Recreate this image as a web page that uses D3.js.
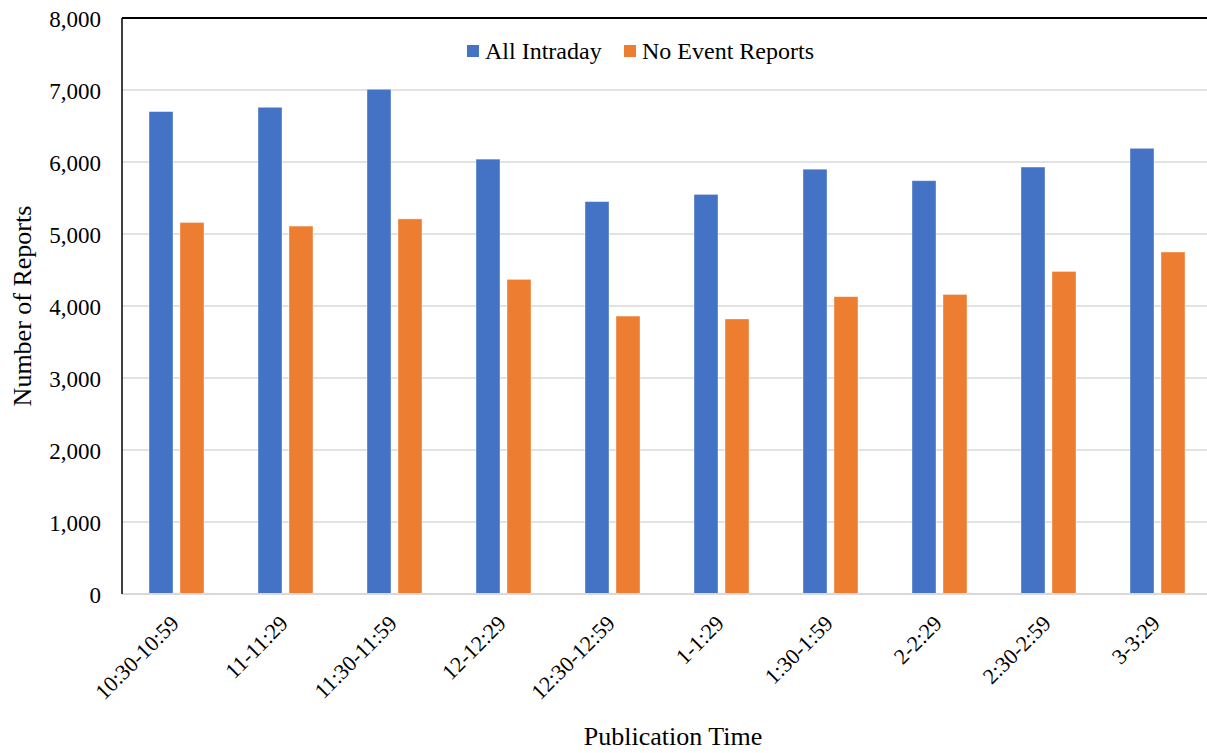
<!DOCTYPE html>
<html>
<head>
<meta charset="utf-8">
<script src="https://cdn.jsdelivr.net/npm/d3@7"></script>
<style>
  html, body { margin: 0; padding: 0; background: #fff; }
  svg, svg text { font-family: "Times New Roman", Tinos, "Liberation Serif", "DejaVu Serif", serif !important; }
  svg { display: block; }
</style>
</head>
<body>
<svg id="chart" width="1207" height="753"></svg>
<script>
// Report counts by publication time window
const categories = ["10:30-10:59", "11-11:29", "11:30-11:59", "12-12:29", "12:30-12:59",
                    "1-1:29", "1:30-1:59", "2-2:29", "2:30-2:59", "3-3:29"];
const seriesNames = ["All Intraday", "No Event Reports"];
const allIntraday = [6700, 6760, 7010, 6040, 5450, 5550, 5900, 5740, 5930, 6190];
const noEventReports = [5160, 5110, 5210, 4370, 3860, 3820, 4130, 4160, 4480, 4750];
const yTicks = [0, 1000, 2000, 3000, 4000, 5000, 6000, 7000, 8000];
const colors = ["#4472C4", "#ED7D31"];

const svg = d3.select("#chart");
const plot = { left: 122, right: 1212, top: 18, bottom: 594 };

const x0 = d3.scaleBand()
  .domain(categories)
  .range([plot.left, plot.right])
  .paddingInner(0.4955)
  .paddingOuter(0.4955 / 2);

const x1 = d3.scaleBand()
  .domain(seriesNames)
  .range([0, x0.bandwidth()])
  .paddingInner(0.2258);

const y = d3.scaleLinear().domain([0, 8000]).range([plot.bottom, plot.top]);

// horizontal gridlines
svg.append("g")
  .selectAll("line")
  .data(yTicks.filter(d => d > 0 && d < 8000))
  .join("line")
  .attr("x1", plot.left).attr("x2", plot.right)
  .attr("y1", d => y(d)).attr("y2", d => y(d))
  .attr("stroke", "#d9d9d9").attr("stroke-width", 1.5);

// bars
const rows = categories.map((c, i) => ({ cat: c, values: [allIntraday[i], noEventReports[i]] }));
svg.append("g")
  .selectAll("g")
  .data(rows)
  .join("g")
  .attr("transform", d => `translate(${x0(d.cat)},0)`)
  .selectAll("rect")
  .data(d => d.values.map((v, k) => ({ key: seriesNames[k], value: v, k })))
  .join("rect")
  .attr("x", d => x1(d.key))
  .attr("width", x1.bandwidth())
  .attr("y", d => y(d.value))
  .attr("height", d => y(0) - y(d.value))
  .attr("fill", d => colors[d.k])
  .attr("stroke", "#ffffff").attr("stroke-opacity", 0.5).attr("stroke-width", 0.75);

// bottom axis line
svg.append("line")
  .attr("x1", plot.left).attr("x2", plot.right)
  .attr("y1", y(0)).attr("y2", y(0))
  .attr("stroke", "#d9d9d9").attr("stroke-width", 2);

// plot frame: top and left edges
svg.append("line")
  .attr("x1", plot.left).attr("x2", plot.right)
  .attr("y1", plot.top).attr("y2", plot.top)
  .attr("stroke", "#000").attr("stroke-width", 2);
svg.append("line")
  .attr("x1", plot.left).attr("x2", plot.left)
  .attr("y1", plot.top).attr("y2", plot.bottom)
  .attr("stroke", "#000").attr("stroke-width", 1.5);

// y axis labels
const yAxis = d3.axisLeft(y)
  .tickValues(yTicks)
  .tickFormat(d3.format(","))
  .tickSize(0)
  .tickPadding(21);
const gy = svg.append("g").attr("transform", `translate(${plot.left},0)`).call(yAxis);
gy.attr("font-family", null);
gy.select(".domain").remove();
gy.selectAll("text")
  .attr("font-size", 23)
  .attr("fill", "#000")
  .attr("dy", "0.35em");

// x axis labels, rotated
const xAxis = d3.axisBottom(x0).tickSize(0).tickPadding(0);
const gx = svg.append("g").attr("transform", `translate(0,${plot.bottom})`).call(xAxis);
gx.attr("font-family", null);
gx.select(".domain").remove();
gx.selectAll("text")
  .attr("font-size", 22)
  .attr("fill", "#000")
  .attr("text-anchor", "end")
  .attr("dy", null)
  .attr("y", 0)
  .attr("transform", "translate(-1.5,25.5) rotate(-45)")
  .attr("dominant-baseline", "central");

// axis titles
svg.append("text")
  .attr("x", 673).attr("y", 745)
  .attr("text-anchor", "middle")
  .attr("font-size", 26)
  .text("Publication Time");

svg.append("text")
  .attr("transform", `translate(31,${(plot.top + plot.bottom) / 2}) rotate(-90)`)
  .attr("text-anchor", "middle")
  .attr("font-size", 26)
  .text("Number of Reports");

// legend
const legendX = [467, 624];
const legend = svg.append("g")
  .selectAll("g")
  .data(seriesNames)
  .join("g")
  .attr("transform", (d, i) => `translate(${legendX[i]},45)`);
legend.append("rect")
  .attr("width", 12).attr("height", 12)
  .attr("fill", (d, i) => colors[i]);
legend.append("text")
  .attr("x", 18).attr("y", 14)
  .attr("font-size", 24)
  .text(d => d);
</script>
</body>
</html>
